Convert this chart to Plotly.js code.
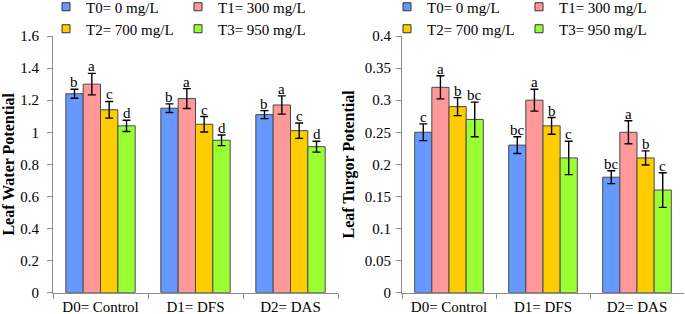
<!DOCTYPE html>
<html><head><meta charset="utf-8">
<script src="https://cdn.plot.ly/plotly-3.0.1.min.js"></script>
<style>html,body{margin:0;padding:0;background:#fff}#chart{width:685px;height:314px}</style>
</head><body><div id="chart"></div>
<script>
// ---- data ----
const categories = ["D0= Control", "D1= DFS", "D2= DAS"];
const seriesNames = ["T0= 0 mg/L", "T1= 300 mg/L", "T2= 700 mg/L", "T3= 950 mg/L"];
const seriesColors = ["#6699FF", "#FF9999", "#FFCC00", "#99FF33"];

// Leaf Water Potential
const lwpT0 = [1.24, 1.15, 1.11];
const lwpT1 = [1.30, 1.21, 1.17];
const lwpT2 = [1.14, 1.05, 1.01];
const lwpT3 = [1.04, 0.95, 0.91];
const lwpErrT0 = [0.028, 0.027, 0.025];
const lwpErrT1 = [0.067, 0.062, 0.057];
const lwpErrT2 = [0.052, 0.048, 0.048];
const lwpErrT3 = [0.035, 0.033, 0.034];
const lwpLetT0 = ["b", "b", "b"];
const lwpLetT1 = ["a", "a", "a"];
const lwpLetT2 = ["c", "c", "c"];
const lwpLetT3 = ["d", "d", "d"];

// Leaf Turgor Potential
const ltpT0 = [0.25, 0.23, 0.18];
const ltpT1 = [0.32, 0.30, 0.25];
const ltpT2 = [0.29, 0.26, 0.21];
const ltpT3 = [0.27, 0.21, 0.16];
const ltpErrT0 = [0.013, 0.013, 0.010];
const ltpErrT1 = [0.018, 0.017, 0.018];
const ltpErrT2 = [0.014, 0.013, 0.011];
const ltpErrT3 = [0.027, 0.026, 0.027];
const ltpLetT0 = ["c", "bc", "bc"];
const ltpLetT1 = ["a", "a", "a"];
const ltpLetT2 = ["b", "b", "b"];
const ltpLetT3 = ["bc", "c", "c"];

// ---- build ----
const FONT = "'Liberation Serif', 'Times New Roman', serif";
const W = 685, H = 314;
const bargap = 0.27;
const nSeries = 4;
const barW = (1 - bargap) / nSeries;

const lwpVals = [lwpT0, lwpT1, lwpT2, lwpT3];
const lwpErrs = [lwpErrT0, lwpErrT1, lwpErrT2, lwpErrT3];
const lwpLets = [lwpLetT0, lwpLetT1, lwpLetT2, lwpLetT3];
const ltpVals = [ltpT0, ltpT1, ltpT2, ltpT3];
const ltpErrs = [ltpErrT0, ltpErrT1, ltpErrT2, ltpErrT3];
const ltpLets = [ltpLetT0, ltpLetT1, ltpLetT2, ltpLetT3];

const traces = [];
const annotations = [];

function addPanel(vals, errs, lets, xa, ya) {
  for (let j = 0; j < nSeries; j++) {
    traces.push({
      type: "bar", x: categories, y: vals[j], name: seriesNames[j],
      xaxis: xa, yaxis: ya, showlegend: false,
      marker: {color: seriesColors[j], line: {color: "#4a4a4a", width: 1}},
      error_y: {type: "data", array: errs[j], visible: true, color: "#000", thickness: 1.4, width: 4},
      hoverinfo: "skip"
    });
    for (let i = 0; i < categories.length; i++) {
      annotations.push({
        xref: xa, yref: ya, x: i + (j - (nSeries - 1) / 2) * barW,
        y: vals[j][i] + errs[j][i], text: lets[j][i], showarrow: false,
        yanchor: "bottom", xanchor: "center", yshift: -3,
        font: {family: FONT, size: 15, color: "#000"}
      });
    }
  }
}
addPanel(lwpVals, lwpErrs, lwpLets, "x", "y");
addPanel(ltpVals, ltpErrs, ltpLets, "x2", "y2");

// legend proxies: each panel has two legends (2 rows x 2 columns)
const legendIds = [["legend", "legend", "legend2", "legend2"], ["legend3", "legend3", "legend4", "legend4"]];
const axPairs = [["x", "y"], ["x2", "y2"]];
for (let p = 0; p < 2; p++) {
  for (let j = 0; j < nSeries; j++) {
    traces.push({
      type: "scatter", mode: "markers", x: [null], y: [null], name: seriesNames[j],
      xaxis: axPairs[p][0], yaxis: axPairs[p][1], legend: legendIds[p][j], showlegend: true,
      marker: {symbol: "square", size: 8, color: seriesColors[j], line: {color: "#333", width: 1}},
      hoverinfo: "skip"
    });
  }
}

function legendAt(xpx, ypx) {
  return {x: xpx / W, y: 1 - ypx / H, xanchor: "left", yanchor: "middle",
    orientation: "h", entrywidth: 87, entrywidthmode: "pixels",
    bgcolor: "rgba(0,0,0,0)", borderwidth: 0, itemclick: false,
    font: {family: FONT, size: 15, color: "#000"}, traceorder: "normal"};
}

const ydom = [(H - 292.7) / H, (H - 36) / H];
const axisCommon = {showline: true, linecolor: "#8c8c8c", linewidth: 1, ticks: "outside",
  ticklen: 5, tickcolor: "#8c8c8c", showgrid: false, zeroline: false, automargin: false,
  tickfont: {family: FONT, size: 15, color: "#000"}};

const layout = {
  width: W, height: H, margin: {l: 0, r: 0, t: 0, b: 0, autoexpand: false},
  paper_bgcolor: "#fff", plot_bgcolor: "#fff",
  barmode: "group", bargap: bargap, bargroupgap: 0,
  font: {family: FONT, size: 15, color: "#000"},
  xaxis: Object.assign({}, axisCommon, {domain: [53 / W, 338 / W], anchor: "y", type: "category", tickson: "boundaries"}),
  yaxis: Object.assign({}, axisCommon, {domain: ydom, anchor: "x", range: [0, 1.6], dtick: 0.2, tick0: 0,
    ticklabelstandoff: 5,
    title: {text: "Leaf Water Potential", standoff: 12, font: {family: FONT, size: 16, weight: "bold", color: "#000"}}}),
  xaxis2: Object.assign({}, axisCommon, {domain: [402 / W, 684 / W], anchor: "y2", type: "category", tickson: "boundaries"}),
  yaxis2: Object.assign({}, axisCommon, {domain: ydom, anchor: "x2", range: [0, 0.4], dtick: 0.05, tick0: 0,
    ticklabelstandoff: 2,
    title: {text: "Leaf Turgor Potential", standoff: 6, font: {family: FONT, size: 16, weight: "bold", color: "#000"}}}),
  legend: legendAt(46, 7),
  legend2: legendAt(46, 29),
  legend3: legendAt(387, 7),
  legend4: legendAt(387, 29),
  annotations: annotations,
  showlegend: true
};

Plotly.newPlot("chart", traces, layout, {staticPlot: true, displayModeBar: false});
</script></body></html>
